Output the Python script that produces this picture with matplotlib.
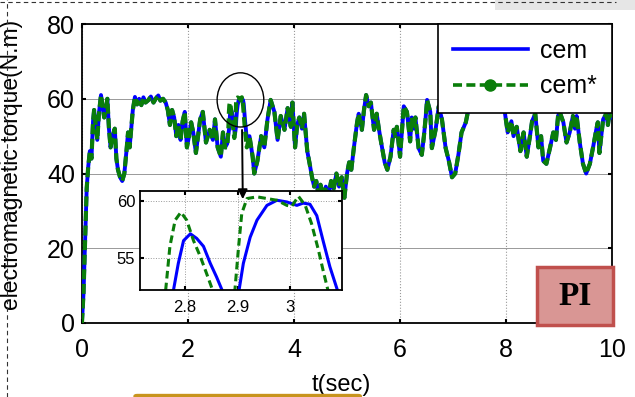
import numpy as np
import matplotlib
matplotlib.use('Agg')
import matplotlib.pyplot as plt
from matplotlib.patches import Ellipse, Rectangle, FancyBboxPatch
from matplotlib.lines import Line2D

plt.rcParams['font.family'] = ['Liberation Sans', 'DejaVu Sans']

# main torque trace (cem and cem* overlap at this scale)
t_a = [0.00, 0.03, 0.06, 0.09, 0.12, 0.15, 0.18, 0.21, 0.23, 0.26,
       0.29, 0.32, 0.36, 0.39, 0.42, 0.45, 0.48, 0.51, 0.54, 0.58,
       0.62, 0.65, 0.68, 0.72, 0.76, 0.80, 0.84, 0.87, 0.90, 0.93,
       0.96, 1.00, 1.04, 1.08, 1.12, 1.16, 1.20, 1.25, 1.30, 1.35,
       1.40, 1.44, 1.48, 1.53, 1.58, 1.62, 1.66, 1.70, 1.74, 1.78,
       1.82, 1.86, 1.90, 1.94, 1.98, 2.02, 2.06, 2.10, 2.15, 2.19,
       2.23, 2.28, 2.34, 2.41, 2.47, 2.51, 2.56, 2.62, 2.66, 2.70]
v_a = [0, 8, 22, 36, 42, 46, 44, 54, 57, 53,
       49, 56, 61, 58, 55, 57, 60, 52, 47, 50,
       52, 44, 41, 39, 38, 40, 46, 51, 47, 52,
       57, 60.5, 58.5, 60, 58.3, 60.4, 59, 59.6, 60.6, 59,
       60.2, 60.9, 59.5, 60, 59, 57, 53, 57, 55, 50,
       53, 49, 54, 56.5, 47, 50, 53.7, 51, 45.5, 50,
       54.5, 56.5, 48.3, 51.7, 49, 54.5, 47, 44.5, 51, 47]

t_b = [3.16, 3.22, 3.25, 3.31, 3.38, 3.44, 3.50, 3.56, 3.63, 3.69,
       3.75, 3.82, 3.88, 3.94, 3.97, 4.02, 4.06, 4.10, 4.15, 4.19,
       4.25, 4.29, 4.34, 4.38, 4.42, 4.46, 4.50, 4.55, 4.60, 4.65,
       4.70, 4.75, 4.80, 4.85, 4.90, 4.95, 5.00, 5.04, 5.08, 5.13,
       5.19, 5.22, 5.28, 5.32, 5.36, 5.41, 5.45, 5.51, 5.56, 5.60,
       5.64, 5.71, 5.76, 5.82, 5.88, 5.91, 5.94, 6.00, 6.04, 6.07,
       6.13, 6.19, 6.22, 6.26, 6.29, 6.35, 6.41, 6.45, 6.48, 6.51,
       6.57, 6.60, 6.67, 6.73, 6.79, 6.86, 6.92, 6.98, 7.04, 7.10,
       7.16, 7.24, 7.28, 7.33, 7.40, 7.48, 7.56, 7.64, 7.72, 7.80,
       7.88, 7.95, 8.01, 8.03, 8.10, 8.14, 8.20, 8.27, 8.33, 8.39,
       8.45, 8.49, 8.55, 8.61, 8.66, 8.70, 8.76, 8.83, 8.89, 8.94,
       8.98, 9.01, 9.08, 9.14, 9.20, 9.26, 9.30, 9.33, 9.39, 9.45,
       9.51, 9.58, 9.64, 9.70, 9.73, 9.76, 9.83, 9.89, 9.92, 9.96,
       10.0]
v_b = [50, 44.5, 40, 43.4, 50, 47, 54.5, 59.7, 56.5, 49,
       55.4, 51.7, 57.5, 52.5, 59, 47, 53, 55, 52, 56,
       46, 43, 39, 36.5, 38, 34.5, 37, 33.5, 36.5, 34,
       38, 36, 40, 36.5, 39, 33.5, 40, 43, 41, 47,
       53.7, 56, 51.7, 57, 61, 58, 59, 51.7, 56, 52,
       48.6, 43, 41, 44.5, 51.7, 50, 52.5, 44.5, 52, 58,
       56.5, 48.6, 55, 52, 55, 46.8, 45, 50, 54.5, 59.7,
       56.5, 46.8, 51.7, 58, 54.5, 46.8, 43.4, 39, 40, 45,
       51, 53.7, 56.5, 60, 58, 61, 58.5, 60, 57.5, 60.5,
       58, 59, 53, 51, 54, 50, 52.5, 46, 51, 44.5,
       50, 54, 56, 47, 50, 43.4, 42.6, 47, 51, 49,
       55.4, 56.5, 53.7, 48.3, 51, 55.4, 52, 55.4, 48.3, 42.6,
       40, 42.6, 47, 51.7, 53.7, 45.5, 54.5, 56, 53, 57,
       55]

# zoomed window 2.74 .. 3.11 s
t_zoom_cem = [2.74, 2.778, 2.787, 2.797, 2.81, 2.822, 2.835, 2.848, 2.86, 2.87,
              2.886, 2.903, 2.911, 2.924, 2.937, 2.956, 2.975, 2.994, 3.013, 3.025,
              3.038, 3.051, 3.063, 3.076, 3.09, 3.11]
v_zoom_cem = [48, 52.2, 54.5, 56.5, 57.1, 56.7, 56, 54.5, 53.3, 52.2,
              50.5, 52.2, 54.5, 56.8, 58.3, 59.6, 60.05, 59.9, 59.6, 59.8,
              59.7, 58.7, 56.5, 54.2, 52.2, 49]
t_zoom_star = [2.74, 2.763, 2.771, 2.781, 2.792, 2.803, 2.816, 2.829, 2.841, 2.852,
               2.874, 2.895, 2.902, 2.908, 2.918, 2.937, 2.956, 2.975, 2.994, 3.003,
               3.016, 3.029, 3.041, 3.054, 3.063, 3.072, 3.11]
v_zoom_star = [47, 52.2, 56, 58.3, 59.0, 58.3, 56.5, 55.1, 53.6, 52.2,
               49.5, 52.2, 56, 58.9, 60.2, 60.35, 60.2, 60.05, 59.6, 59.5,
               60.4, 59.6, 58, 55.7, 53.9, 52.2, 47]

x_ticks = [0, 2, 4, 6, 8, 10]
y_ticks = [0, 20, 40, 60, 80]
zoom_xticks = [2.8, 2.9, 3.0]
zoom_xlabels = ['2.8', '2.9', '3']
zoom_yticks = [55, 60]

blue = '#0000ff'
green = '#0a7d0a'

t_cem = t_a + t_zoom_cem + t_b
v_cem = v_a + v_zoom_cem + v_b
t_star = t_a + t_zoom_star + t_b
v_star = v_a + v_zoom_star + v_b

fig = plt.figure(figsize=(6.35, 3.97), dpi=100)
ax = fig.add_axes([0.129, 0.1864, 0.835, 0.753])

ax.plot(t_cem, v_cem, color=blue, lw=2.8, zorder=3)
ax.plot(t_star, v_star, color=green, lw=3.0, dashes=(2.4, 1.1), zorder=4)

ax.set_xlim(0, 10)
ax.set_ylim(0, 80)
ax.set_xticks(x_ticks)
ax.set_yticks(y_ticks)
ax.tick_params(direction='in', length=3, width=1.5, top=True, right=True, labelsize=18)
ax.tick_params(axis='x', pad=11)
ax.tick_params(axis='y', pad=5)
ax.xaxis.grid(True, color='#999999', ls=':', lw=0.8)
ax.yaxis.grid(True, color='#999999', ls='-', lw=0.7)
for s in ax.spines.values():
    s.set_linewidth(1.3)

ax.set_ylabel('electromagnetic torque(N.m)', fontsize=16.5)
ax.yaxis.set_label_coords(-0.112, 0.53)
ax.set_xlabel('t(sec)', fontsize=17)
ax.xaxis.set_label_coords(0.49, -0.17)

h1 = Line2D([], [], color=blue, lw=2.6)
h2 = Line2D([], [], color=green, lw=2.6, dashes=(2.5, 1.2), marker='o', markersize=8)
leg = ax.legend([h1, h2], ['cem', 'cem*'], loc='upper right', bbox_to_anchor=(1, 1),
                borderaxespad=0, fontsize=18, handlelength=3.0, numpoints=1,
                fancybox=False, framealpha=1, edgecolor='black',
                labelspacing=0.45, borderpad=0.6, handletextpad=0.5)
leg.get_frame().set_linewidth(1.2)
leg.set_zorder(10)

ax.add_patch(Ellipse((2.99, 59.7), 0.88, 14.5, fill=False, ec='black', lw=1, zorder=6))

# PI tag in the corner
ax.add_patch(Rectangle((0.858, -0.007), 0.144, 0.194, transform=ax.transAxes,
                       facecolor='#d99694', edgecolor='#c0504d', lw=2.5,
                       clip_on=False, zorder=11))
ax.text(0.93, 0.09, 'PI', transform=ax.transAxes, ha='center', va='center',
        fontsize=24, fontweight='bold', family=['Liberation Serif', 'DejaVu Serif'],
        zorder=12)

# inset
ins = fig.add_axes([0.2205, 0.2695, 0.318, 0.249])
ins.set_facecolor('white')
ins.plot(t_zoom_cem, v_zoom_cem, color=blue, lw=2.2)
ins.plot(t_zoom_star, v_zoom_star, color=green, lw=2.2, dashes=(2.5, 1.4))
ins.set_xlim(2.714, 3.099)
ins.set_ylim(52.16, 60.85)
ins.set_xticks(zoom_xticks)
ins.set_xticklabels(zoom_xlabels)
ins.set_yticks(zoom_yticks)
ins.tick_params(direction='in', length=3, width=1.5, top=True, right=True, labelsize=12)
ins.tick_params(axis='x', pad=7)
ins.grid(True, color='#999999', ls=':', lw=0.7)
for s in ins.spines.values():
    s.set_linewidth(1.3)

ins.annotate('', xy=(2.91, 59.9), xycoords='data', xytext=(3.02, 52.4),
             textcoords=ax.transData,
             arrowprops=dict(arrowstyle='-|>', color='black', lw=1.4, mutation_scale=14))

# page decorations around the figure
fig.add_artist(Line2D([0.011, 0.011], [0, 1], transform=fig.transFigure,
                      color='#333333', lw=0.8, ls=(0, (4, 3))))
fig.add_artist(Line2D([0, 0.97], [0.995, 0.995], transform=fig.transFigure,
                      color='#333333', lw=0.8, ls=(0, (4, 3))))
fig.add_artist(Rectangle((0.78, 0.975), 0.22, 0.025, transform=fig.transFigure,
                         facecolor='#e6e6e6', edgecolor='none', zorder=0))
fig.add_artist(FancyBboxPatch((0.21, -0.01), 0.36, 0.018, boxstyle='round,pad=0,rounding_size=0.006',
                              transform=fig.transFigure, facecolor='#c8941e',
                              edgecolor='none'))

fig.savefig('out.png', dpi=100)
